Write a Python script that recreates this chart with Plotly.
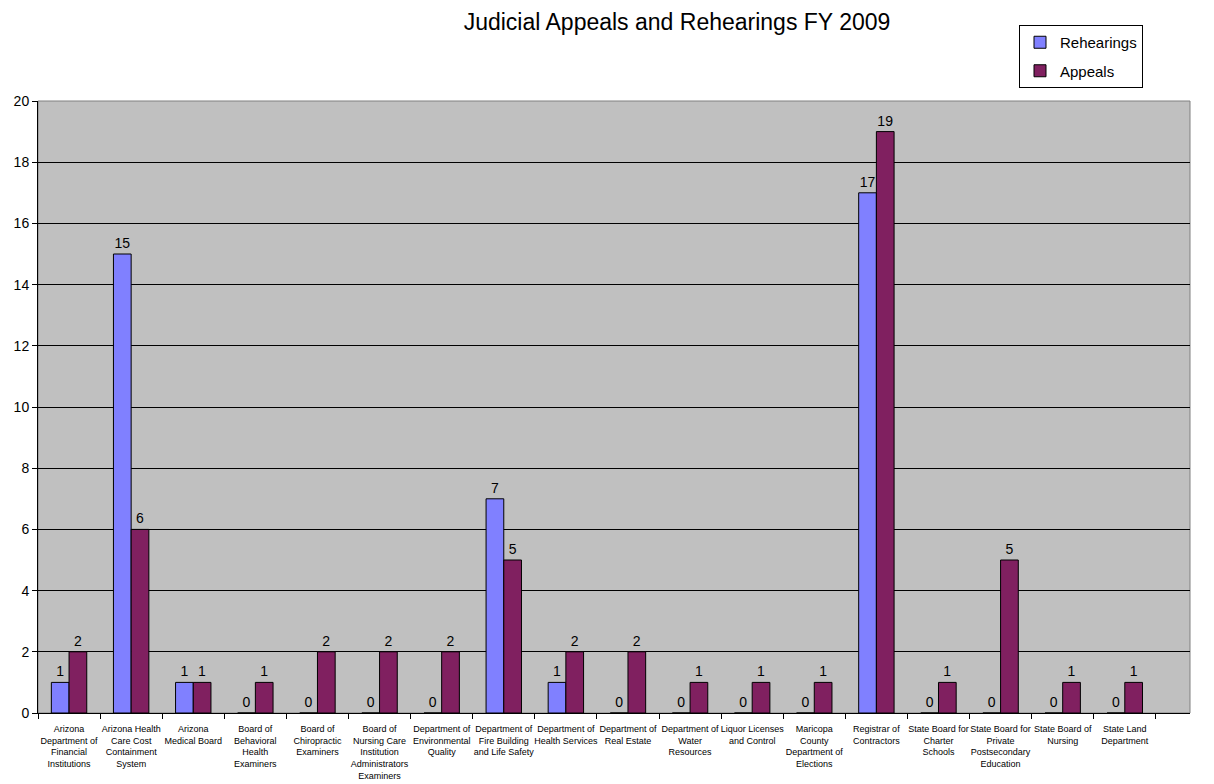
import plotly.graph_objects as go

categories = [
    "Arizona<br>Department of<br>Financial<br>Institutions",
    "Arizona Health<br>Care Cost<br>Containment<br>System",
    "Arizona<br>Medical Board",
    "Board of<br>Behavioral<br>Health<br>Examiners",
    "Board of<br>Chiropractic<br>Examiners",
    "Board of<br>Nursing Care<br>Institution<br>Administrators<br>Examiners",
    "Department of<br>Environmental<br>Quality",
    "Department of<br>Fire Building<br>and Life Safety",
    "Department of<br>Health Services",
    "Department of<br>Real Estate",
    "Department of<br>Water<br>Resources",
    "Liquor Licenses<br>and Control",
    "Maricopa<br>County<br>Department of<br>Elections",
    "Registrar of<br>Contractors",
    "State Board for<br>Charter<br>Schools",
    "State Board for<br>Private<br>Postsecondary<br>Education",
    "State Board of<br>Nursing",
    "State Land<br>Department",
]
rehearings = [1, 15, 1, 0, 0, 0, 0, 7, 1, 0, 0, 0, 0, 17, 0, 0, 0, 0]
appeals = [2, 6, 1, 1, 2, 2, 2, 5, 2, 2, 1, 1, 1, 19, 1, 5, 1, 1]
y_ticks = list(range(0, 21, 2))

FONT = "Liberation Sans, Arial, sans-serif"
W, H = 1214, 784

fig = go.Figure()
fig.add_trace(go.Bar(
    name="Rehearings", x=categories, y=rehearings, legendgroup="r",
    marker=dict(color="#8080FF", line=dict(color="#000000", width=1)),
    text=[str(v) for v in rehearings], textposition="outside",
    textfont=dict(family=FONT, size=14, color="#000000"), cliponaxis=False,
))
fig.add_trace(go.Bar(
    name="Appeals", x=categories, y=appeals, legendgroup="a",
    marker=dict(color="#802060", line=dict(color="#000000", width=1)),
    text=[str(v) for v in appeals], textposition="outside",
    textfont=dict(family=FONT, size=14, color="#000000"), cliponaxis=False,
))

fig.update_layout(
    width=W, height=H,
    margin=dict(l=30, r=32, t=93, b=79, autoexpand=False),
    paper_bgcolor="#FFFFFF",
    plot_bgcolor="#C0C0C0",
    barmode="group",
    bargap=0.43,
    bargroupgap=0,
    font=dict(family=FONT, color="#000000"),
    title=dict(text="Judicial Appeals and Rehearings FY 2009", x=669 / W, xanchor="center",
               xref="container", y=1 - 14 / H, yanchor="middle", yref="container",
               font=dict(family=FONT, size=23, color="#000000")),
    legend=dict(x=1073 / W, y=1 - 17 / H, xref="container", yref="container",
                xanchor="center", yanchor="top",
                bgcolor="#FFFFFF", bordercolor="#000000", borderwidth=1,
                font=dict(family=FONT, size=15, color="#000000"),
                itemwidth=30, tracegroupgap=6),
    showlegend=True,
)
fig.update_xaxes(
    range=[-0.5, 18.05],
    showgrid=False,
    showline=True, linecolor="#000000", linewidth=1,
    ticks="outside", tickson="boundaries", ticklen=5, tickcolor="#000000",
    tickfont=dict(family=FONT, size=9, color="#000000"),
    tickangle=0, ticklabelstandoff=7,
)
fig.update_yaxes(
    range=[0, 20],
    tickvals=y_ticks,
    showgrid=True, gridcolor="#000000", gridwidth=1,
    showline=True, linecolor="#000000", linewidth=1,
    ticks="outside", ticklen=5, tickcolor="#000000",
    tickfont=dict(family=FONT, size=14, color="#000000"),
    zeroline=False,
)
fig.add_shape(type="rect", xref="paper", yref="paper", x0=0, x1=1, y0=0, y1=1,
              line=dict(color="#808080", width=1), layer="below")

fig.write_html("out.html")
